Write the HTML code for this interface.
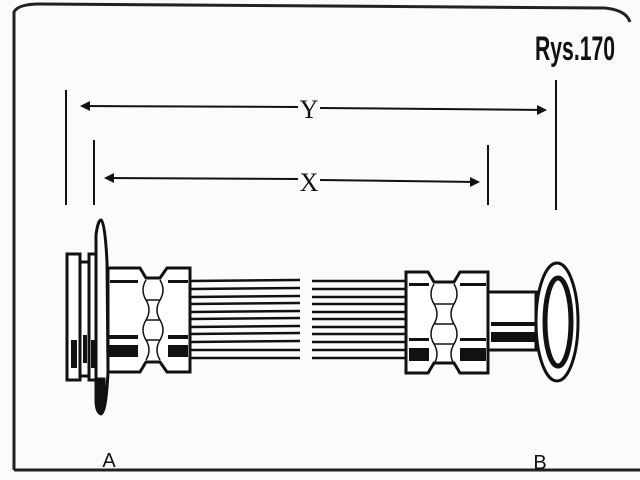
<!DOCTYPE html>
<html><head><style>body{margin:0;background:#fff}svg{display:block}</style></head><body>
<svg width="640" height="480" viewBox="0 0 640 480" xmlns="http://www.w3.org/2000/svg" font-family="Liberation Sans, sans-serif">
<rect width="640" height="480" fill="#fbfbfb"/>
<path d="M14 470 L14 12 Q18 4 40 4 L605 8 Q626 10 630 22" fill="none" stroke="#222" stroke-width="3"/>
<line x1="14" y1="470" x2="640" y2="470" stroke="#222" stroke-width="3"/>
<text x="575" y="60" font-size="34" font-weight="bold" text-anchor="middle" textLength="80" lengthAdjust="spacingAndGlyphs" fill="#111">Rys.170</text>
<g stroke="#111" stroke-width="2" fill="none">
<line x1="66" y1="90" x2="66" y2="205"/><line x1="556" y1="80" x2="556" y2="210"/>
<line x1="94" y1="140" x2="94" y2="205"/><line x1="488" y1="145" x2="488" y2="205"/>
<line x1="82" y1="106" x2="298" y2="107"/><line x1="320" y1="108" x2="545" y2="110"/>
<line x1="106" y1="178" x2="298" y2="179"/><line x1="320" y1="180" x2="478" y2="182"/>
</g>
<g fill="#111"><path d="M80 106 l10 -5 v10z"/><path d="M547 110 l-10 -5 v10z"/><path d="M104 178 l10 -5 v10z"/><path d="M480 182 l-10 -5 v10z"/></g>
<text x="309" y="118" font-size="26" text-anchor="middle" font-family="Liberation Serif, serif" fill="#111">Y</text>
<text x="309" y="191" font-size="26" text-anchor="middle" font-family="Liberation Serif, serif" fill="#111">X</text>
<g stroke="#111" stroke-width="3" fill="#fff">
<g stroke-width="2.5">
<line x1="190" y1="281" x2="300" y2="280"/><line x1="190" y1="289" x2="300" y2="288"/><line x1="190" y1="297" x2="300" y2="296"/><line x1="190" y1="304" x2="300" y2="303"/><line x1="190" y1="312" x2="300" y2="311"/><line x1="190" y1="319" x2="300" y2="318"/><line x1="190" y1="327" x2="300" y2="326"/><line x1="190" y1="334" x2="300" y2="333"/><line x1="190" y1="342" x2="300" y2="341"/><line x1="190" y1="350" x2="300" y2="350"/><line x1="190" y1="358" x2="300" y2="358"/>
<line x1="312" y1="281" x2="406" y2="281"/><line x1="312" y1="289" x2="406" y2="289"/><line x1="312" y1="297" x2="406" y2="297"/><line x1="312" y1="304" x2="406" y2="304"/><line x1="312" y1="312" x2="406" y2="312"/><line x1="312" y1="319" x2="406" y2="319"/><line x1="312" y1="327" x2="406" y2="327"/><line x1="312" y1="334" x2="406" y2="334"/><line x1="312" y1="342" x2="406" y2="342"/><line x1="312" y1="350" x2="406" y2="350"/><line x1="312" y1="358" x2="406" y2="358"/>
</g>
<rect x="67" y="254" width="13" height="126"/>
<rect x="80" y="262" width="9" height="114"/>
<rect x="89" y="254" width="9" height="126"/>
<path d="M108 268 H140 L146 278 H160 L167 268 H190 V372 H167 L160 362 H146 L140 372 H108 Z"/>
<path d="M96 235 Q98 220 101 220 Q105 222 107 262 L108 372 Q106 412 101 414 Q96 412 96 400 Z"/>
<path d="M97 378 Q96 410 101 412 Q106 410 105 378 Z" fill="#111" stroke-width="1"/>
<path d="M406 272 H428 L434 282 H454 L460 272 H488 V373 H460 L454 363 H434 L428 373 H406 Z"/>
<rect x="488" y="292" width="48" height="58"/>
<ellipse cx="557" cy="322" rx="21" ry="59"/>
<ellipse cx="558" cy="322" rx="13" ry="44" stroke-width="5"/>
</g>
<g stroke="#111" stroke-width="1.5" fill="none">
<path d="M146 280 q-6 10 0 20 q6 10 0 20 q-6 10 0 20 q6 10 0 20 M160 280 q6 10 0 20 q-6 10 0 20 q6 10 0 20 q-6 10 0 20 M146 300 H160 M146 320 H160 M146 340 H160"/>
<path d="M434 284 q-6 10 0 20 q6 10 0 20 q-6 10 0 20 q6 10 0 20 M454 284 q6 10 0 20 q-6 10 0 20 q6 10 0 20 q-6 10 0 20 M434 304 H454 M434 324 H454 M434 344 H454"/>
</g>
<g fill="#111">
<rect x="110" y="280" width="28" height="3"/><rect x="168" y="280" width="20" height="3"/>
<rect x="108" y="335" width="30" height="4"/><rect x="108" y="345" width="30" height="12"/>
<rect x="168" y="335" width="20" height="4"/><rect x="168" y="345" width="20" height="12"/>
<rect x="409" y="283" width="20" height="3"/><rect x="460" y="283" width="26" height="3"/>
<rect x="409" y="338" width="20" height="3"/><rect x="409" y="348" width="20" height="13"/>
<rect x="460" y="338" width="26" height="3"/><rect x="460" y="348" width="26" height="13"/>
<rect x="491" y="322" width="44" height="4"/><rect x="491" y="332" width="44" height="10"/>
<rect x="71" y="340" width="6" height="28"/><rect x="83" y="335" width="4" height="28"/><rect x="91" y="340" width="5" height="28"/>
</g>
<text x="109" y="467" font-size="20" text-anchor="middle" fill="#111">A</text>
<text x="540" y="469" font-size="20" text-anchor="middle" fill="#111">B</text>
</svg>
</body></html>
